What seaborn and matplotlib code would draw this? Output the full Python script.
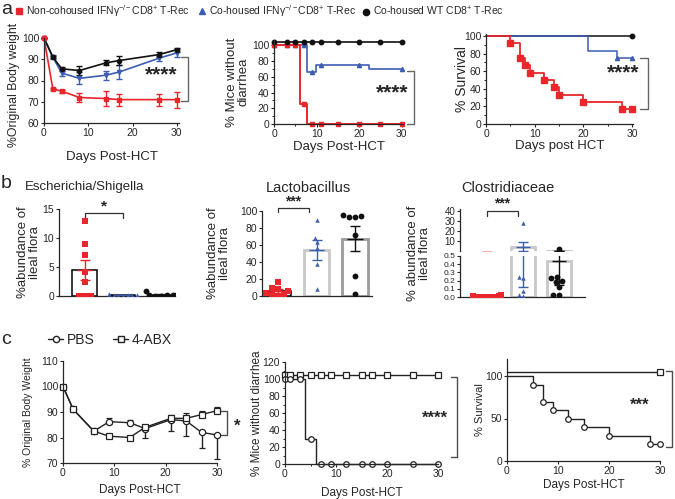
import warnings
import numpy as np
import pandas as pd
import matplotlib
matplotlib.use("Agg")
import matplotlib.pyplot as plt
import seaborn as sns
from matplotlib.lines import Line2D
from matplotlib.ticker import MultipleLocator, FormatStrFormatter

warnings.filterwarnings("ignore")

# ---- panel a: weight, diarrhea, survival ----
DAYS_A1 = [0, 2, 4, 8, 14, 17, 26, 30]
A1_RED = [100, 76, 75, 72, 71.5, 71, 71, 71]
A1_RED_ERR = [0, 0.7, 0.7, 2.2, 3.5, 2.8, 2.8, 3.8]
A1_BLUE = [100, 91, 83.5, 81, 82.5, 84, 90.5, 93]
A1_BLUE_ERR = [0, 0.8, 1.5, 2.8, 2.2, 3.5, 1.2, 2]
A1_BLACK = [100, 91, 85.5, 84.7, 88.3, 89.4, 92.2, 94.5]
A1_BLACK_ERR = [0, 0.5, 1, 2, 1.2, 2, 1.2, 1]

# diarrhea-free curves (step times / levels) and marker points
A2_RED_T, A2_RED_V = [0, 6, 7.7, 30], [100, 25, 0, 0]
A2_RED_MD = [0, 3, 5, 7, 9, 11, 15, 20, 25, 30]
A2_RED_MV = [100, 100, 100, 25, 0, 0, 0, 0, 0, 0]
A2_BLUE_T, A2_BLUE_V = [0, 7.7, 9.8, 22.2, 30], [100, 66, 75, 70, 70]
A2_BLUE_MD = [0, 3, 5, 7, 9, 11, 20, 30]
A2_BLUE_MV = [100, 100, 100, 100, 66, 75, 75, 70]
A2_BLACK_MD = [0, 3, 5, 7, 9, 11, 15, 20, 25, 30]
A2_BLACK_V = 104

A3_RED_T = [0, 5, 7, 8, 9, 12, 14, 15, 20, 28, 30]
A3_RED_V = [100, 92, 75, 67, 58, 50, 42, 33, 25, 17, 17]
A3_BLUE_T, A3_BLUE_V = [0, 21, 27, 30], [100, 83, 75, 75]
A3_BLUE_MD, A3_BLUE_MV = [27, 30], [75, 75]

# ---- panel b: ileal flora abundance ----
GROUPS = ["Non-cohoused IFNg-/-", "Co-housed IFNg-/-", "Co-housed WT"]
ESCH = {
    GROUPS[0]: [12.9, 9.0, 7.0, 4.2, 2.5, 0, 0, 0],
    GROUPS[1]: [0.3, 0.2, 0.15, 0.1, 0.1, 0.05, 0.02],
    GROUPS[2]: [0.8, 0.2, 0.15, 0.1, 0.1, 0.05, 0.02],
}
LACTO = {
    GROUPS[0]: [17, 10, 8, 6, 3, 1, 1, 0],
    GROUPS[1]: [90, 68, 63, 57, 38, 8],
    GROUPS[2]: [93, 95, 94, 93, 72, 23, 2],
}
CLOST = {
    GROUPS[0]: [0.02, 0.015, 0.01, 0.01, 0.005, 0.0, 0.0, 0.0],
    GROUPS[1]: [28, 0.25, 0.23, 0.07, 0.03, 0.01],
    GROUPS[2]: [2.5, 0.25, 0.23, 0.2, 0.18, 0.12, 0.03, 0.02],
}

# ---- panel c: PBS vs 4-ABX ----
DAYS_C1 = [0, 2, 6, 9, 13, 16, 21, 24, 27, 30]
C1_PBS = [100, 91, 82.5, 86.2, 85.8, 83.5, 87, 86.5, 82, 81]
C1_PBS_LO = [0, 0.5, 0.5, 1, 0.5, 3.5, 4.5, 6, 6, 9.5]
C1_PBS_HI = [0, 0.5, 0.5, 1.5, 1, 1, 2, 1.5, 0.5, 0.5]
C1_ABX = [100, 91, 82.5, 80.5, 80, 84, 87.5, 87.5, 89, 90.5]
C1_ABX_LO = [0, 0.5, 0.5, 0.5, 0.5, 1, 1, 1, 0.5, 0.5]
C1_ABX_HI = [0, 0.5, 0.5, 0.5, 0.5, 1, 1, 2, 1.5, 1.5]

C2_DAYS = [0, 1, 3, 5, 7, 9, 12, 15, 17, 20, 25, 30]
C2_PBS_T, C2_PBS_V = [0, 4, 6, 30], [100, 30, 0, 0]
C2_PBS_M = [100, 100, 100, 30, 0, 0, 0, 0, 0, 0, 0, 0]
C2_ABX_V = 105

C3_PBS_T = [0, 5, 7, 9, 12, 15, 20, 28, 30]
C3_PBS_V = [100, 90, 70, 60, 50, 40, 30, 20, 20]
C3_ABX_V = 105

RED, BLUE, BLACK = "#e8262b", "#3d5db3", "#111111"
GCOL = [RED, BLUE, BLACK]
GMARK = ["s", "^", "o"]
GSIZE = [4.2, 3.2, 4.2]

sns.set_style("ticks")
plt.rcParams["font.family"] = ["Liberation Sans", "DejaVu Sans"]
plt.rcParams["mathtext.fontset"] = "custom"
plt.rcParams["mathtext.rm"] = "Liberation Sans"
plt.rcParams["mathtext.it"] = "Liberation Sans:italic"
plt.rcParams["axes.linewidth"] = 0.9

W, H = 675, 499
fig = plt.figure(figsize=(W / 100, H / 100), dpi=100)


def px_axes(l, t, r, b):
    return fig.add_axes([l / W, 1 - b / H, (r - l) / W, (b - t) / H])


def style(ax, fs=7.5):
    sns.despine(ax=ax)
    ax.tick_params(labelsize=fs, length=2.5, width=0.8, pad=1)
    ax.tick_params(which="minor", length=1.5, width=0.7)


def ylab(ax, text, xpx, fs, ypos=0.5):
    ax.set_ylabel(text, fontsize=fs, linespacing=0.95)
    bb = ax.get_position()
    ax.yaxis.set_label_coords((xpx / W - bb.x0) / bb.width, ypos)
    ax.yaxis.label.set_va("center")


def xlab(ax, text, ypx, fs):
    ax.set_xlabel(text, fontsize=fs)
    bb = ax.get_position()
    ax.xaxis.set_label_coords(0.5, ((1 - ypx / H) - bb.y0) / bb.height)
    ax.xaxis.label.set_va("center")


def vbracket(ax, x, y0, y1, arm, col="0.4"):
    ax.plot([x - arm, x, x, x - arm], [y1, y1, y0, y0], color=col, lw=1, clip_on=False)


def hbracket(ax, x0, x1, y, leg, text, ty, fs=11):
    ax.plot([x0, x0, x1, x1], [y - leg, y, y, y - leg], color="0.2", lw=0.9, clip_on=False)
    ax.text((x0 + x1) / 2, ty, text, ha="center", va="center", fontsize=fs,
            fontweight="bold", clip_on=False)


# ================= a1 =================
ax = px_axes(44, 38, 179, 123)
for vals, err, c, m in [(A1_BLUE, A1_BLUE_ERR, BLUE, "v"),
                        (A1_BLACK, A1_BLACK_ERR, BLACK, "o"),
                        (A1_RED, A1_RED_ERR, RED, "s")]:
    ax.errorbar(DAYS_A1, vals, yerr=err, color=c, marker=m, ms=3, lw=1.2,
                elinewidth=1, capsize=2, clip_on=False)
ax.set_xlim(0, 30.5)
ax.set_ylim(60, 100)
ax.set_xticks([0, 10, 20, 30])
ax.set_yticks([60, 70, 80, 90, 100])
style(ax, 7.5)
ylab(ax, "%Original Body weight", 14, 8.8, ypos=0.45)
xlab(ax, "Days Post-HCT", 157, 9.5)
vbracket(ax, 32.5, 70.5, 91, 1.6)
ax.text(26.5, 82.5, "****", fontsize=15, fontweight="bold", ha="center", va="center")

# ================= a2 =================
ax = px_axes(274, 40, 403, 124)
ax.step(A2_BLUE_T, A2_BLUE_V, where="post", color=BLUE, lw=1.2, clip_on=False)
ax.plot(A2_BLUE_MD, A2_BLUE_MV, ls="none", marker="^", ms=3, color=BLUE, clip_on=False)
ax.step(A2_RED_T, A2_RED_V, where="post", color=RED, lw=1.4, clip_on=False)
ax.plot(A2_RED_MD, A2_RED_MV, ls="none", marker="s", ms=3.5, color=RED, clip_on=False)
ax.plot([0, 30], [A2_BLACK_V, A2_BLACK_V], color=BLACK, lw=1.2, clip_on=False)
ax.plot(A2_BLACK_MD, [A2_BLACK_V] * len(A2_BLACK_MD), ls="none", marker="o", ms=3.2,
        color=BLACK, clip_on=False)
ax.set_xlim(0, 30.3)
ax.set_ylim(0, 107)
ax.set_xticks([0, 10, 20, 30])
ax.set_yticks([0, 20, 40, 60, 80, 100])
ax.yaxis.set_minor_locator(MultipleLocator(10))
ax.xaxis.set_minor_locator(MultipleLocator(5))
style(ax, 7.5)
ylab(ax, "% Mice without\ndiarrhea", 238, 9.5)
xlab(ax, "Days Post-HCT", 147, 9.5)
vbracket(ax, 32.8, 0, 67, 1.6)
ax.text(27.7, 40, "****", fontsize=15, fontweight="bold", ha="center", va="center")

# ================= a3 =================
ax = px_axes(486, 34, 633, 124)
ax.plot([0, 30], [100, 100], color=BLACK, lw=1.1, clip_on=False)
ax.plot([30], [100], marker="o", ms=3.2, color=BLACK, clip_on=False)
ax.step(A3_BLUE_T, A3_BLUE_V, where="post", color=BLUE, lw=1.1, clip_on=False)
ax.plot(A3_BLUE_MD, A3_BLUE_MV, ls="none", marker="^", ms=3, color=BLUE, clip_on=False)
ax.step(A3_RED_T, A3_RED_V, where="post", color=RED, lw=1.3, clip_on=False)
ax.plot(A3_RED_T[1:], A3_RED_V[1:], ls="none", marker="s", ms=4, color=RED, clip_on=False)
ax.set_xlim(0, 30.2)
ax.set_ylim(0, 102.3)
ax.set_xticks([0, 10, 20, 30])
ax.set_yticks([0, 20, 40, 60, 80, 100])
ax.yaxis.set_minor_locator(MultipleLocator(10))
ax.xaxis.set_minor_locator(MultipleLocator(5))
style(ax, 7.5)
ylab(ax, "% Survival", 462, 10)
xlab(ax, "Days post HCT", 146, 9.5)
vbracket(ax, 33.3, 17, 75, 1.6)
ax.text(28.2, 58, "****", fontsize=15, fontweight="bold", ha="center", va="center")


# ================= b =================
def flora_df(d):
    rows = [(g, v) for g in GROUPS for v in d[g]]
    return pd.DataFrame(rows, columns=["group", "value"])


def flora(ax, df, edges, widths, xlim, ylim):
    sns.barplot(data=df, x="group", y="value", order=GROUPS, errorbar=None,
                color="white", width=0.66, ax=ax)
    for p, ec, lw in zip(ax.patches, edges, widths):
        p.set_edgecolor(ec)
        p.set_linewidth(lw)
    for i, g in enumerate(GROUPS):
        sub = df[df["group"] == g]
        shown = sub[(sub["value"] >= ylim[0]) & (sub["value"] <= ylim[1])]
        if len(shown):
            sns.swarmplot(data=shown, x="group", y="value", order=GROUPS, marker=GMARK[i],
                          color=GCOL[i], size=GSIZE[i], linewidth=0, ax=ax)
        m, s = sub["value"].mean(), sub["value"].sem()
        ax.errorbar(i, m, yerr=s, color=GCOL[i], capsize=3.5, lw=1, capthick=1)
        ax.hlines(m, i - 0.2, i + 0.2, color=GCOL[i], lw=1)
    ax.set_xlim(*xlim)
    ax.set_ylim(*ylim)
    ax.set_xlabel("")
    ax.set_ylabel("")
    ax.set_xticks([])


esch_df, lacto_df, clost_df = flora_df(ESCH), flora_df(LACTO), flora_df(CLOST)

ax = px_axes(59, 209, 175, 296)
flora(ax, esch_df, ["black", "black", "black"], [1.1, 1.1, 1.1], (-0.68, 2.37), (0, 15))
ax.set_yticks([0, 5, 10, 15])
style(ax, 7.5)
ylab(ax, "%abundance of\nileal flora", 29, 9.5)
hbracket(ax, 0, 1, 14.3, 0.8, "*", 15.4, 11)
fig.text(85 / W, 1 - 187 / H, "Escherichia/Shigella", fontsize=9.5, ha="center", va="center")

ax = px_axes(262, 211, 372, 296)
flora(ax, lacto_df, ["black", "#c8c8c8", "#9a9a9a"], [1.1, 2, 2], (-0.42, 2.44), (0, 100))
ax.set_yticks([0, 20, 40, 60, 80, 100])
style(ax, 7.5)
ylab(ax, "%abundance of\nileal flora", 219, 9.5)
hbracket(ax, 0, 0.8, 104, 5, "***", 111, 10)
fig.text(308 / W, 1 - 188 / H, "Lactobacillus", fontsize=10.5, ha="center", va="center")

# broken axis for Clostridiaceae
ax_top = px_axes(460, 209, 585, 251)
ax_bot = px_axes(460, 256, 585, 297)
flora(ax_top, clost_df, ["black", "#c8c8c8", "#c8c8c8"], [1.1, 2, 2], (-0.75, 2.72), (0.5, 41.5))
flora(ax_bot, clost_df, ["black", "#c8c8c8", "#c8c8c8"], [1.1, 2, 2], (-0.75, 2.72), (0, 0.5))
ax_top.set_yticks([10, 20, 30, 40])
ax_bot.set_yticks([0, 0.1, 0.2, 0.3, 0.4, 0.5])
ax_bot.yaxis.set_major_formatter(FormatStrFormatter("%.1f"))
style(ax_top, 7)
style(ax_bot, 6)
ax_top.spines["bottom"].set_visible(False)
ax_top.tick_params(axis="x", bottom=False)
ylab(ax_bot, "% abundance of\nileal flora", 419, 9.5, ypos=1.06)
hbracket(ax_top, 0, 0.85, 40, 5, "***", 47, 10)
fig.text(508 / W, 1 - 188 / H, "Clostridiaceae", fontsize=10.5, ha="center", va="center")

# ================= c =================
CGRAY = "#222222"
ax = px_axes(63, 361, 217, 463)
ax.errorbar(DAYS_C1, C1_PBS, yerr=[C1_PBS_LO, C1_PBS_HI], color=CGRAY, marker="o", ms=4.5,
            mfc="white", mew=0.9, lw=1, capsize=2, clip_on=False)
ax.errorbar(DAYS_C1, C1_ABX, yerr=[C1_ABX_LO, C1_ABX_HI], color=CGRAY, marker="s", ms=4.2,
            mfc="white", mew=0.9, lw=1, capsize=2, clip_on=False)
ax.set_xlim(0, 30)
ax.set_ylim(70, 110)
ax.set_xticks([0, 10, 20, 30])
ax.set_yticks([70, 80, 90, 100, 110])
style(ax, 7.5)
ylab(ax, "% Original Body Weight", 28, 7.5)
xlab(ax, "Days Post-HCT", 490, 8.5)
vbracket(ax, 31.9, 81, 90.5, 1.2, col="0.3")
ax.text(33.9, 84.5, "*", fontsize=12, fontweight="bold", ha="center", va="center",
        clip_on=False)

ax = px_axes(285, 362, 438, 464)
ax.plot([0, 30], [C2_ABX_V, C2_ABX_V], color=CGRAY, lw=1, clip_on=False)
ax.plot(C2_DAYS, [C2_ABX_V] * len(C2_DAYS), ls="none", marker="s", ms=4, mfc="white",
        mew=0.9, color=CGRAY, clip_on=False)
ax.step(C2_PBS_T, C2_PBS_V, where="post", color=CGRAY, lw=1, clip_on=False)
ax.plot(C2_DAYS, C2_PBS_M, ls="none", marker="o", ms=4, mfc="white", mew=0.9,
        color=CGRAY, clip_on=False)
ax.set_xlim(0, 30)
ax.set_ylim(0, 120)
ax.set_xticks([0, 10, 20, 30])
ax.set_yticks([0, 20, 40, 60, 80, 100, 120])
ax.yaxis.set_minor_locator(MultipleLocator(10))
ax.xaxis.set_minor_locator(MultipleLocator(5))
style(ax, 7.5)
ylab(ax, "% Mice without diarrhea", 257, 8.5)
xlab(ax, "Days Post-HCT", 493, 8.5)
vbracket(ax, 33.7, 8, 102, 1.2, col="0.3")
ax.text(29.4, 54, "****", fontsize=12, fontweight="bold", ha="center", va="center",
        clip_on=False)

ax = px_axes(507, 359, 660, 461)
ax.plot([0, 30], [C3_ABX_V, C3_ABX_V], color=CGRAY, lw=1, clip_on=False)
ax.plot([30], [C3_ABX_V], marker="s", ms=4, mfc="white", mew=0.9, color=CGRAY, clip_on=False)
ax.step(C3_PBS_T, C3_PBS_V, where="post", color=CGRAY, lw=1, clip_on=False)
ax.plot(C3_PBS_T[1:], C3_PBS_V[1:], ls="none", marker="o", ms=4, mfc="white", mew=0.9,
        color=CGRAY, clip_on=False)
ax.set_xlim(0, 30)
ax.set_ylim(0, 120)
ax.set_xticks([0, 10, 20, 30])
ax.set_yticks([0, 50, 100])
style(ax, 7.5)
ylab(ax, "% Survival", 480, 8)
xlab(ax, "Days Post-HCT", 485, 8.5)
vbracket(ax, 32.4, 16.5, 106, 1.2, col="0.3")
ax.text(26, 66, "***", fontsize=12, fontweight="bold", ha="center", va="center",
        clip_on=False)

# ================= legends and panel letters =================
leg_a = [
    (Line2D([], [], ls="none", marker="s", ms=4.5, color=RED),
     r"Non-cohoused IFNγ$^{-/-}$CD8$^{+}$ T-Rec", 15),
    (Line2D([], [], ls="none", marker="^", ms=4.5, color=BLUE),
     r"Co-housed IFNγ$^{-/-}$CD8$^{+}$ T-Rec", 198),
    (Line2D([], [], ls="none", marker="o", ms=4.5, color=BLACK),
     r"Co-housed WT CD8$^{+}$ T-Rec", 362),
]
for h, lab, xpx in leg_a:
    fig.legend([h], [lab], loc="center left", bbox_to_anchor=(xpx / W, 1 - 11 / H),
               frameon=False, fontsize=7.5, handlelength=0.8, handletextpad=0.3,
               borderaxespad=0, borderpad=0)

leg_c = [
    (Line2D([], [], color=CGRAY, marker="o", ms=4.5, mfc="white", lw=1), "PBS", 48),
    (Line2D([], [], color=CGRAY, marker="s", ms=4.5, mfc="white", lw=1), "4-ABX", 113),
]
for h, lab, xpx in leg_c:
    fig.legend([h], [lab], loc="center left", bbox_to_anchor=(xpx / W, 1 - 340 / H),
               frameon=False, fontsize=10, handlelength=1.1, handletextpad=0.25,
               borderaxespad=0, borderpad=0)

for letter, ypx in [("a", 9), ("b", 184), ("c", 339)]:
    fig.text(1 / W, 1 - ypx / H, letter, fontsize=14, va="center", ha="left")

fig.savefig("out.png", dpi=100)
